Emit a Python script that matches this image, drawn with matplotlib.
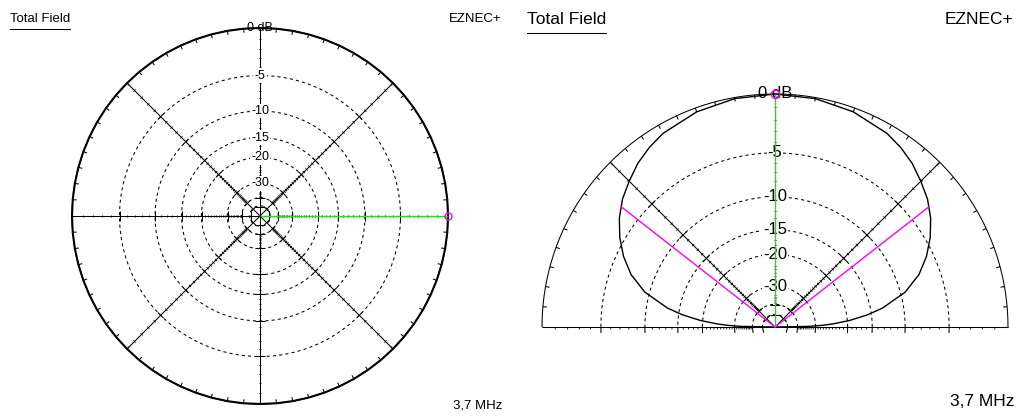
import numpy as np
import matplotlib.pyplot as plt
from matplotlib.lines import Line2D

plt.rcParams['font.family'] = ['Liberation Sans', 'DejaVu Sans']

W, H = 1018, 416

# azimuth pattern, total field (dB), 5 deg steps
az_deg = list(range(0, 361, 5))
az_db = [0.0, 0.0, 0.0, 0.0, 0.0, 0.0, 0.0, 0.0, 0.0, 0.0, 0.0, 0.0, 0.0, 0.0, 0.0, 0.0, 0.0, 0.0,
         0.0, 0.0, 0.0, 0.0, 0.0, 0.0, 0.0, 0.0, 0.0, 0.0, 0.0, 0.0, 0.0, 0.0, 0.0, 0.0, 0.0, 0.0,
         0.0, 0.0, 0.0, 0.0, 0.0, 0.0, 0.0, 0.0, 0.0, 0.0, 0.0, 0.0, 0.0, 0.0, 0.0, 0.0, 0.0, 0.0,
         0.0, 0.0, 0.0, 0.0, 0.0, 0.0, 0.0, 0.0, 0.0, 0.0, 0.0, 0.0, 0.0, 0.0, 0.0, 0.0, 0.0, 0.0,
         0.0]

# elevation pattern (dB), 0..90 deg, mirrored for 90..180
el_half_deg = [0, 1, 2, 3, 5, 7.5, 10, 15, 20, 25, 30, 35, 40, 45, 50, 55, 60, 70, 80, 90]
el_half_db = [-100, -33.5, -27.5, -24.0, -19.5, -15.7, -13.0, -9.4, -7.2, -5.7, -4.5, -3.5,
              -2.7, -2.1, -1.5, -1.05, -0.7, -0.3, -0.08, 0.0]
el_deg = el_half_deg + [180 - a for a in el_half_deg[::-1][1:]]
el_db = el_half_db + el_half_db[::-1][1:]

# -3 dB beamwidth points
beam_deg = [38, 142]
beam_db = -3.0

ring_db = [-5, -10, -15, -20, -30, -40, -50]
ring_labels = ['-5', '-10', '-15', '-20', '-30']
minor_db = [d for d in range(-1, -41, -1) if d not in ring_db]

freq_text = '3,7 MHz'


def r_of(db):
    # ARRL log scale: 0.89 of radius per 2 dB
    return 0.89 ** (-np.asarray(db, dtype=float) / 2)


def polar_axes(fig, cx, cy, R):
    ax = fig.add_axes([(cx - R) / W, (H - cy - R) / H, 2 * R / W, 2 * R / H],
                      projection='polar')
    ax.set_theta_zero_location('E')
    ax.set_theta_direction(1)
    ax.set_ylim(0, 1)
    ax.set_axis_off()
    ax.set_autoscale_on(False)
    return ax


def seg(ax, th, r, **kw):
    kw.setdefault('color', 'black')
    kw.setdefault('lw', 0.75)
    ax.plot(th, r, clip_on=False, solid_capstyle='butt', **kw)


def radial_ticks(ax, R, theta, major, minor, one_side=None):
    for db in ring_db:
        r = float(r_of(db))
        d = major / (r * R)
        lo, hi = (theta - d, theta + d) if one_side is None else (theta, theta + one_side * d)
        seg(ax, [lo, hi], [r, r])
    for db in minor_db:
        r = float(r_of(db))
        d = minor / (r * R)
        lo, hi = (theta - d, theta + d) if one_side is None else (theta, theta + one_side * d)
        seg(ax, [lo, hi], [r, r], lw=0.6)


fig = plt.figure(figsize=(W / 100, H / 100), dpi=100)

# ---- azimuth plot ----
R1 = 188
ax1 = polar_axes(fig, 260, 216, R1)
full = np.linspace(0, 2 * np.pi, 361)
for db in ring_db:
    seg(ax1, full, np.full_like(full, r_of(db)), ls=(0, (3, 3)), zorder=1)
for a in range(0, 360, 45):
    t = np.radians(a)
    seg(ax1, [t, t], [0, 1], zorder=1)
    radial_ticks(ax1, R1, t, 5 if a % 90 == 0 else 4, 1.5)
for a in range(0, 360, 5):
    t = np.radians(a)
    seg(ax1, [t, t], [1, 1 - 4 / R1], zorder=3)
seg(ax1, full, np.ones_like(full), zorder=3)
seg(ax1, np.radians(az_deg), r_of(az_db), lw=1.5, zorder=3)
for lab, db in zip(ring_labels, ring_db):
    ax1.text(np.pi / 2, r_of(db), lab, ha='center', va='center', fontsize=9, zorder=2,
             bbox=dict(boxstyle='square,pad=0.1', fc='white', ec='none'))
ax1.text(np.pi / 2, 1, '0 dB', ha='center', va='center', fontsize=9, zorder=4)
seg(ax1, [0, 0], [0, 1], color='#00f000', lw=1.0, zorder=5)
ax1.plot([0], [1], 'o', mfc='none', mec='magenta', ms=5, mew=1, clip_on=False, zorder=6)

# ---- elevation plot ----
R2 = 233
ax2 = polar_axes(fig, 775, 327, R2)
half = np.linspace(0, np.pi, 181)
for db in ring_db:
    seg(ax2, half, np.full_like(half, r_of(db)), ls=(0, (3, 3)), zorder=1)
for a in [0, 45, 135, 180]:
    t = np.radians(a)
    seg(ax2, [t, t], [0, 1], zorder=1)
radial_ticks(ax2, R2, 0.0, 6, 2.5, one_side=-1)
radial_ticks(ax2, R2, np.pi, 6, 2.5, one_side=1)
radial_ticks(ax2, R2, np.radians(45), 5, 1.5)
radial_ticks(ax2, R2, np.radians(135), 5, 1.5)
radial_ticks(ax2, R2, np.pi / 2, 5, 1.5)
for a in range(0, 181, 5):
    t = np.radians(a)
    seg(ax2, [t, t], [1, 1 - 4 / R2], zorder=3)
seg(ax2, half, np.ones_like(half), zorder=3)
seg(ax2, np.radians(el_deg), r_of(el_db), lw=1.0, zorder=3)
for b in beam_deg:
    seg(ax2, [np.radians(b)] * 2, [0, float(r_of(beam_db))], color='#ff00ff', lw=1.0, zorder=4)
for lab, db in zip(ring_labels, ring_db):
    ax2.text(np.pi / 2, r_of(db), lab, ha='center', va='center', fontsize=12, zorder=2,
             bbox=dict(boxstyle='square,pad=0.05', fc='white', ec='none'))
ax2.text(np.pi / 2, 1, '0 dB', ha='center', va='center', fontsize=12, zorder=4)
seg(ax2, [np.pi / 2] * 2, [0, 1], color='#00f000', lw=1.0, zorder=5)
ax2.plot([np.pi / 2], [1], 'o', mfc='none', mec='magenta', ms=6, mew=1, clip_on=False, zorder=6)

# ---- header / footer text ----
for x, y, fs in [(10, 19, 9.5), (527, 20, 12.5)]:
    t = fig.text(x / W, 1 - y / H, 'Total Field', ha='left', va='center', fontsize=fs)
    # underline
    fig.canvas.draw()
    bb = t.get_window_extent().transformed(fig.transFigure.inverted())
    yline = 1 - (y + 1.05 * fs) / H
    fig.add_artist(Line2D([bb.x0, bb.x1], [yline, yline], transform=fig.transFigure,
                          color='black', lw=0.75))
for x, y, fs in [(502, 19, 9.5), (1013, 20, 12.5)]:
    fig.text(x / W, 1 - y / H, 'EZNEC+', ha='right', va='center', fontsize=fs)
for x, y, fs in [(502, 406, 9.5), (1014, 402, 12.5)]:
    fig.text(x / W, 1 - y / H, freq_text, ha='right', va='center', fontsize=fs)

fig.savefig('out.png', dpi=100, facecolor='white')
